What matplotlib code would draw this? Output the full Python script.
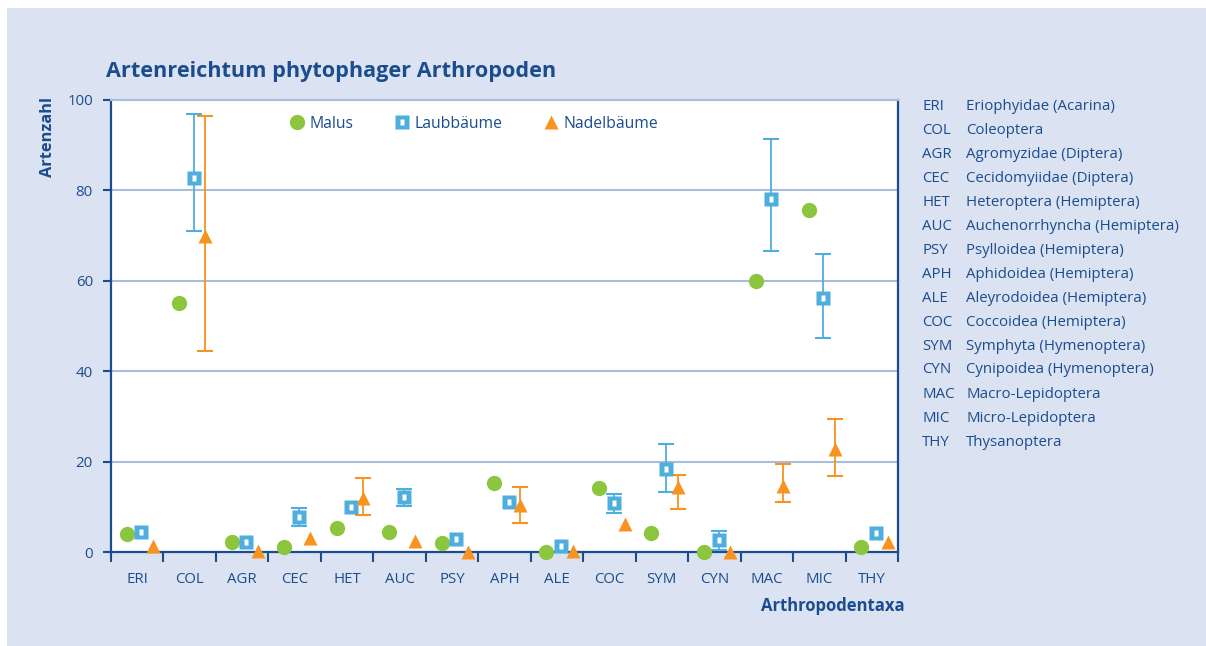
import numpy as np
import matplotlib
matplotlib.use("Agg")
import matplotlib.pyplot as plt
from matplotlib.patches import Rectangle
from matplotlib.legend_handler import HandlerTuple

plt.rcParams['font.family'] = ['Open Sans', 'DejaVu Sans']

# categories and legend names
cats = ['ERI', 'COL', 'AGR', 'CEC', 'HET', 'AUC', 'PSY', 'APH', 'ALE', 'COC',
        'SYM', 'CYN', 'MAC', 'MIC', 'THY']
names = ['Eriophyidae (Acarina)', 'Coleoptera', 'Agromyzidae (Diptera)',
         'Cecidomyiidae (Diptera)', 'Heteroptera (Hemiptera)',
         'Auchenorrhyncha (Hemiptera)', 'Psylloidea (Hemiptera)',
         'Aphidoidea (Hemiptera)', 'Aleyrodoidea (Hemiptera)',
         'Coccoidea (Hemiptera)', 'Symphyta (Hymenoptera)',
         'Cynipoidea (Hymenoptera)', 'Macro-Lepidoptera', 'Micro-Lepidoptera',
         'Thysanoptera']

nan = np.nan
malus = [4.0, 55.0, 2.2, 1.2, 5.3, 4.4, 2.1, 15.3, 0.0, 14.2, 4.2, 0.0, 60.0, 75.6, 1.2]

laub = [4.4, 82.7, 2.3, 7.8, 10.0, 12.2, 2.9, 11.0, 1.3, 10.8, 18.3, 2.6, 78.0, 56.2, 4.2]
laub_lo = [nan, 71.0, nan, 5.8, nan, 10.2, nan, nan, nan, 8.6, 13.3, 0.4, 66.6, 47.3, nan]
laub_hi = [nan, 96.9, nan, 9.7, nan, 14.0, nan, nan, nan, 12.8, 23.9, 4.6, 91.4, 65.9, nan]

nadel = [1.4, 70.0, 0.3, 3.2, 12.0, 2.4, 0.1, 10.5, 0.3, 6.1, 14.4, 0.0, 14.6, 22.8, 2.3]
nadel_lo = [nan, 44.5, nan, nan, 8.2, nan, nan, 6.4, nan, nan, 9.5, nan, 11.0, 16.8, nan]
nadel_hi = [nan, 96.5, nan, nan, 16.4, nan, nan, 14.4, nan, nan, 17.0, nan, 19.5, 29.4, nan]

# colours
bg = '#dbe2f1'
dark = '#1b4d8e'
grid_c = '#a9bcdc'
green = '#8cc63f'
blue = '#4eaede'
orange = '#f7931e'

fig = plt.figure(figsize=(12.06, 6.46), dpi=100)
fig.patch.set_facecolor('white')
fig.patches.append(Rectangle((7 / 1206, 0), 1 - 7 / 1206, 1 - 8 / 646,
                             transform=fig.transFigure, facecolor=bg,
                             edgecolor='none', zorder=-10))

ax = fig.add_axes([111 / 1206, 1 - 552 / 646, 787 / 1206, 452 / 646])
ax.set_facecolor('white')

x = np.arange(len(cats))
xm = x - 0.2
xl = x + 0.08
xn = x + 0.3


def err_parts(xs, ys, lo, hi):
    ys = np.array(ys, float)
    lo = np.array(lo, float)
    hi = np.array(hi, float)
    m = ~np.isnan(lo)
    return xs[m], ys[m], [ys[m] - lo[m], hi[m] - ys[m]]


ex, ey, ee = err_parts(xl, laub, laub_lo, laub_hi)
ax.errorbar(ex, ey, yerr=ee, fmt='none', ecolor=blue, elinewidth=1.3,
            capsize=5.5, capthick=1.5, zorder=3)
ex, ey, ee = err_parts(xn, nadel, nadel_lo, nadel_hi)
ax.errorbar(ex, ey, yerr=ee, fmt='none', ecolor=orange, elinewidth=1.3,
            capsize=5.5, capthick=1.5, zorder=3)

# narrow white window inside the Laubbäume square
inner = [(-1, -1.6), (1, -1.6), (1, 1.6), (-1, 1.6), (-1, -1.6)]

h_malus, = ax.plot(xm, malus, 'o', color=green, ms=11, mec='none',
                   zorder=4, clip_on=False)
h_laub, = ax.plot(xl, laub, 's', color=blue, ms=10, mec='none',
                  zorder=4, clip_on=False)
h_laub2, = ax.plot(xl, laub, marker=inner, ls='none', color='white', ms=5,
                   mec='none', zorder=5, clip_on=False)
h_nadel, = ax.plot(xn, nadel, '^', color=orange, ms=10, mec='none',
                   zorder=4, clip_on=False)

ax.set_xlim(-0.5, len(cats) - 0.5)
ax.set_ylim(0, 100)
ax.set_yticks([0, 20, 40, 60, 80, 100])
ax.set_xticks(x)
ax.set_xticklabels(cats)
ax.set_xticks(np.arange(len(cats) + 1) - 0.5, minor=True)
ax.tick_params(axis='x', which='major', length=0, pad=14.5, labelsize=10.8,
               labelcolor=dark)
ax.tick_params(axis='x', which='minor', length=7.5, width=1.5, color=dark,
               direction='out')
ax.tick_params(axis='y', length=6, width=1.5, color=dark, pad=7,
               labelsize=10.8, labelcolor=dark)

ax.grid(axis='y', color=grid_c, lw=1.5)
ax.set_axisbelow(True)
for s in ['left', 'bottom', 'right']:
    ax.spines[s].set_color(dark)
    ax.spines[s].set_linewidth(1.6)
ax.spines['top'].set_color(grid_c)
ax.spines['top'].set_linewidth(1.5)

leg = ax.legend([h_malus, (h_laub, h_laub2), h_nadel],
                ['Malus', 'Laubbäume', 'Nadelbäume'],
                handler_map={tuple: HandlerTuple(ndivide=1, pad=0)},
                loc='upper left', bbox_to_anchor=(0.206, 1.0), ncol=3,
                frameon=False, fontsize=11.3, handlelength=1.0,
                handletextpad=0.3, columnspacing=2.6, borderaxespad=0.6)
for t in leg.get_texts():
    t.set_color(dark)

fig.text(106 / 1206, 1 - 72 / 646, 'Artenreichtum phytophager Arthropoden',
         fontsize=15.6, fontweight='bold', color=dark, va='center', ha='left')
fig.text(48 / 1206, 1 - 137 / 646, 'Artenzahl', rotation=90, fontsize=11.8,
         fontweight='bold', color=dark, va='center', ha='center')
fig.text(905 / 1206, 1 - 606 / 646, 'Arthropodentaxa', fontsize=12,
         fontweight='bold', color=dark, va='center', ha='right')

for i, (c, n) in enumerate(zip(cats, names)):
    yy = 1 - (106 + 24 * i) / 646
    fig.text(922 / 1206, yy, c, fontsize=10.8, color=dark, va='center')
    fig.text(966 / 1206, yy, n, fontsize=10.8, color=dark, va='center')

fig.savefig('out.png', dpi=100, facecolor=fig.get_facecolor())
